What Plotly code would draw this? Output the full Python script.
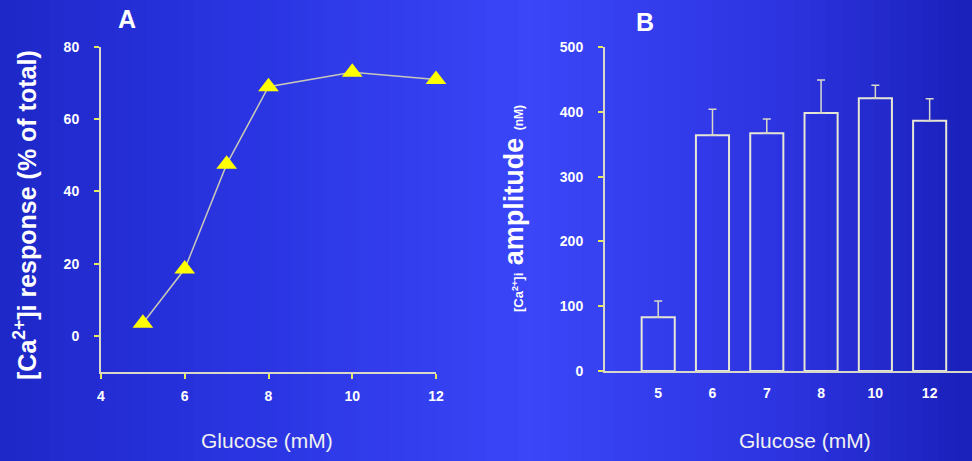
import plotly.graph_objects as go

# ---- data ----
glucose_a = [5, 6, 7, 8, 10, 12]
response_pct = [3.5, 18.5, 47.5, 69, 73, 71]

glucose_b = ["5", "6", "7", "8", "10", "12"]
amplitude_nM = [83, 364, 367, 398, 421, 386]
amplitude_err = [25, 40, 22, 51, 20, 34]

yticks_a = [0, 20, 40, 60, 80]
xticks_a = [4, 6, 8, 10, 12]
yticks_b = [0, 100, 200, 300, 400, 500]

W, H = 972, 461
fig = go.Figure()

# background gradient (horizontal)
stops = [(0.0, (30, 40, 200)), (0.25, (42, 52, 225)), (0.55, (58, 70, 248)),
         (0.8, (45, 52, 225)), (1.0, (26, 32, 185))]
def col(t):
    for (t0, c0), (t1, c1) in zip(stops[:-1], stops[1:]):
        if t0 <= t <= t1:
            f = (t - t0) / (t1 - t0)
            return "rgb(%d,%d,%d)" % tuple(round(a + (b - a) * f) for a, b in zip(c0, c1))
    return "rgb(%d,%d,%d)" % stops[-1][1]
N = 60
shapes = []
for i in range(N):
    x0, x1 = i / N, (i + 1) / N + 0.002
    shapes.append(dict(type="rect", xref="paper", yref="paper", x0=x0, x1=x1, y0=0, y1=1,
                       fillcolor=col((i + 0.5) / N), line=dict(width=0), layer="below"))

line_col = "#d8d8c8"
FONT = "Liberation Sans, Arial"
tick_font = dict(family=FONT, size=14, color="white", weight="bold")

fig.add_trace(go.Scatter(
    x=glucose_a, y=response_pct, mode="lines+markers",
    line=dict(color="#c8c8b8", width=1.5),
    marker=dict(symbol="triangle-up", size=18, color="#ffff00", line=dict(width=0)),
    xaxis="x", yaxis="y", showlegend=False, cliponaxis=False))

fig.add_trace(go.Bar(
    x=glucose_b, y=amplitude_nM,
    marker=dict(color="rgba(0,0,0,0)", line=dict(color="#e6e6d6", width=2)),
    error_y=dict(type="data", array=amplitude_err, arrayminus=[0] * 6, symmetric=False,
                 color="#d8d8c8", thickness=1.5, width=4),
    width=0.61, xaxis="x2", yaxis="y2", showlegend=False))

ax_common = dict(showgrid=False, zeroline=False, showline=True, linecolor=line_col, linewidth=2,
                 tickfont=tick_font, ticks="outside", tickcolor="#e8e860", ticklen=5, tickwidth=1.5,
                 automargin=False)

def ann(text, x, y, size, bold=True, angle=0, color="white"):
    f = dict(family=FONT, size=size, color=color)
    if bold:
        f["weight"] = "bold"
    return dict(text=text, x=x / W, y=1 - y / H, xref="paper", yref="paper", showarrow=False,
                xanchor="center", yanchor="middle", textangle=angle, font=f)

fig.update_layout(
    width=W, height=H, margin=dict(l=0, r=0, t=0, b=0, autoexpand=False),
    paper_bgcolor="#2a36dc", plot_bgcolor="rgba(0,0,0,0)",
    shapes=shapes,
    xaxis=dict(domain=[101 / W, 436 / W], range=[4, 12], tickvals=xticks_a, anchor="y",
               ticklabelstandoff=5, **ax_common),
    yaxis=dict(domain=[1 - 372 / H, 1 - 47 / H], range=[-10, 80], tickvals=yticks_a, anchor="x",
               ticklabelstandoff=12, **ax_common),
    xaxis2=dict(domain=[605 / W, 1.0], range=[-0.98, 5.78], type="category", anchor="y2",
                showgrid=False, zeroline=False, showline=True, linecolor=line_col, linewidth=2,
                tickfont=tick_font, ticks="", ticklabelstandoff=8, automargin=False),
    yaxis2=dict(domain=[1 - 371 / H, 1 - 47 / H], range=[0, 500], tickvals=yticks_b, anchor="x2",
                ticklabelstandoff=12, **ax_common),
    annotations=[
        ann("A", 127, 19, 25),
        ann("B", 645, 22, 25),
        ann("Glucose (mM)", 267, 440, 21, bold=False, color="#f0f0f0"),
        ann("Glucose (mM)", 805, 440, 21, bold=False, color="#f0f0f0"),
        ann("[Ca<sup>2+</sup>]i response (% of total)", 25, 215, 25, angle=-90),
        ann("<span style='font-size:13px'>[Ca<sup>2+</sup>]i</span> amplitude "
            "<span style='font-size:12px'>(nM)</span>", 514, 209, 27, angle=-90),
    ],
)

fig.write_html("out.html")
